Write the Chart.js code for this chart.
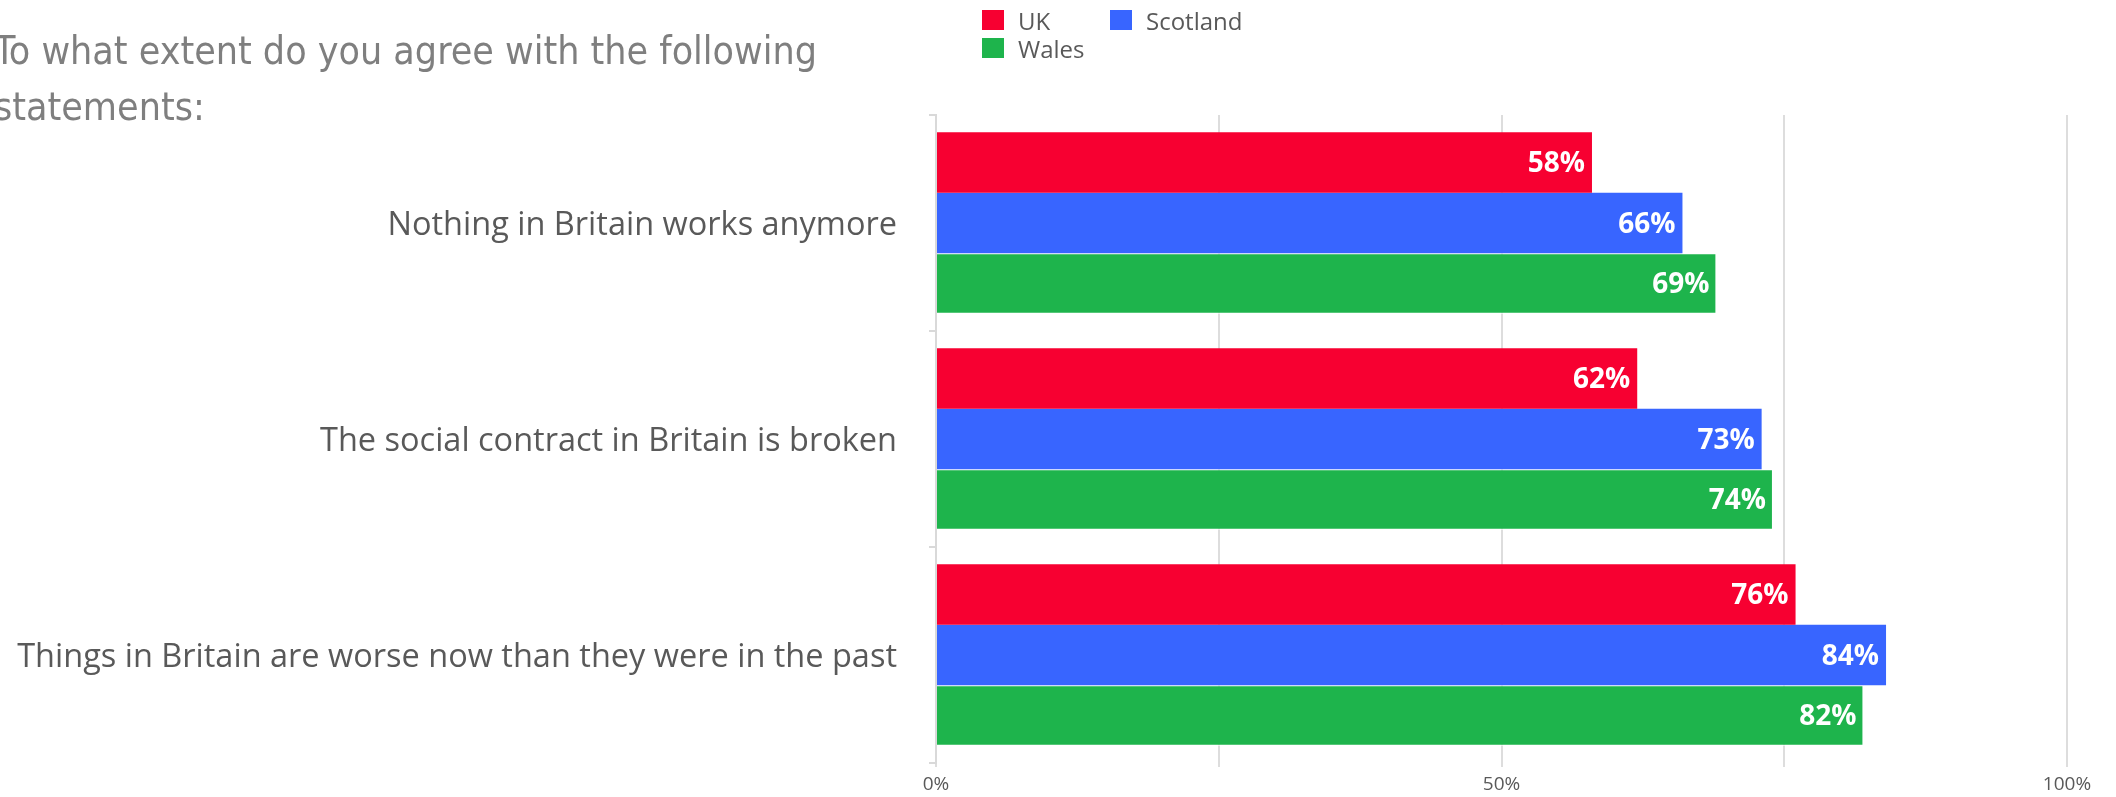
<!DOCTYPE html>
<html>
<head>
<meta charset="utf-8">
<script src="https://cdn.jsdelivr.net/npm/chart.js@4/dist/chart.umd.min.js"></script>
<style>
  html, body { margin: 0; padding: 0; background: #fff; overflow: hidden; }
  #wrap { position: relative; width: 2116px; height: 797px; }
  canvas { display: block; }
  #title { position: absolute; left: -6px; top: 23px; font-family: "DejaVu Sans Condensed", "DejaVu Sans", sans-serif; font-size: 39px; line-height: 56px; color: #7f7f7f; white-space: nowrap; }
  #legend { position: absolute; left: 0; top: 0; font-family: "Open Sans", sans-serif; font-size: 24px; color: #595959; }
  .li { position: absolute; display: flex; align-items: center; white-space: nowrap; height: 22px; }
  .sw { width: 22px; height: 20px; margin-right: 14px; box-sizing: border-box; }
</style>
</head>
<body>
<div id="wrap">
  <canvas id="c" width="2116" height="797"></canvas>
  <div id="title">To what extent do you agree with the following<br>statements:</div>
  <div id="legend"></div>
</div>
<script>
const categories = [
  "Nothing in Britain works anymore",
  "The social contract in Britain is broken",
  "Things in Britain are worse now than they were in the past"
];
const seriesNames = ["UK", "Scotland", "Wales"];
const ukValues = [58, 62, 76];
const scotlandValues = [66, 73, 84];
const walesValues = [69, 74, 82];
const xTickValues = [0, 50, 100];
const seriesColors = ["#F70031", "#3865FF", "#1EB44C"];

const valueLabels = {
  id: 'valueLabels',
  afterDatasetsDraw(chart) {
    const ctx = chart.ctx;
    ctx.save();
    ctx.font = 'bold 28px "Open Sans", sans-serif';
    ctx.fillStyle = '#ffffff';
    ctx.textAlign = 'right';
    ctx.textBaseline = 'middle';
    chart.data.datasets.forEach((ds, i) => {
      const meta = chart.getDatasetMeta(i);
      meta.data.forEach((el, j) => {
        ctx.fillText(ds.data[j] + '%', el.x - 7, el.y + 2);
      });
    });
    ctx.restore();
  }
};

const chart = new Chart(document.getElementById('c'), {
  type: 'bar',
  data: {
    labels: categories,
    datasets: [
      { label: seriesNames[0], data: ukValues, backgroundColor: seriesColors[0], borderWidth: 0 },
      { label: seriesNames[1], data: scotlandValues, backgroundColor: seriesColors[1], borderWidth: 0 },
      { label: seriesNames[2], data: walesValues, backgroundColor: seriesColors[2], borderColor: '#ffffff', borderWidth: 1 }
    ]
  },
  options: {
    indexAxis: 'y',
    responsive: false,
    animation: false,
    devicePixelRatio: 1,
    categoryPercentage: 0.84,
    barPercentage: 1.0,
    layout: { padding: { left: 0, right: 49, top: 115, bottom: 0 } },
    plugins: { legend: { display: false }, title: { display: false }, tooltip: { enabled: false } },
    scales: {
      x: {
        min: 0, max: 100,
        afterFit: s => { s.height = 34; s.paddingLeft = 0; s.paddingRight = 0; },
        ticks: {
          stepSize: 25,
          autoSkip: false,
          maxRotation: 0,
          padding: 6,
          color: '#595959',
          font: { family: '"Open Sans", sans-serif', size: 19 },
          callback: v => xTickValues.includes(v) ? v + '%' : ''
        },
        grid: { color: '#dddddd', lineWidth: 2, tickLength: 4 },
        border: { display: false }
      },
      y: {
        afterFit: s => { s.width = 936; s.paddingTop = 0; s.paddingBottom = 0; },
        ticks: {
          padding: 32,
          labelOffset: 3,
          color: '#595959',
          font: { family: '"Open Sans", sans-serif', size: 32.5 }
        },
        grid: { offset: true, drawOnChartArea: false, color: '#d9d9d9', lineWidth: 2, tickLength: 7 },
        border: { display: true, color: '#d9d9d9', width: 2 }
      }
    }
  },
  plugins: [valueLabels]
});

// HTML legend built from the chart datasets
const legendPos = [[982, 9], [1110, 9], [982, 37]];
const lg = document.getElementById('legend');
chart.data.datasets.forEach((ds, i) => {
  const item = document.createElement('div');
  item.className = 'li';
  item.style.left = legendPos[i][0] + 'px';
  item.style.top = legendPos[i][1] + 'px';
  const sw = document.createElement('div');
  sw.className = 'sw';
  sw.style.background = ds.backgroundColor;
  const tx = document.createElement('span');
  tx.textContent = ds.label;
  item.appendChild(sw);
  item.appendChild(tx);
  lg.appendChild(item);
});
</script>
</body>
</html>
